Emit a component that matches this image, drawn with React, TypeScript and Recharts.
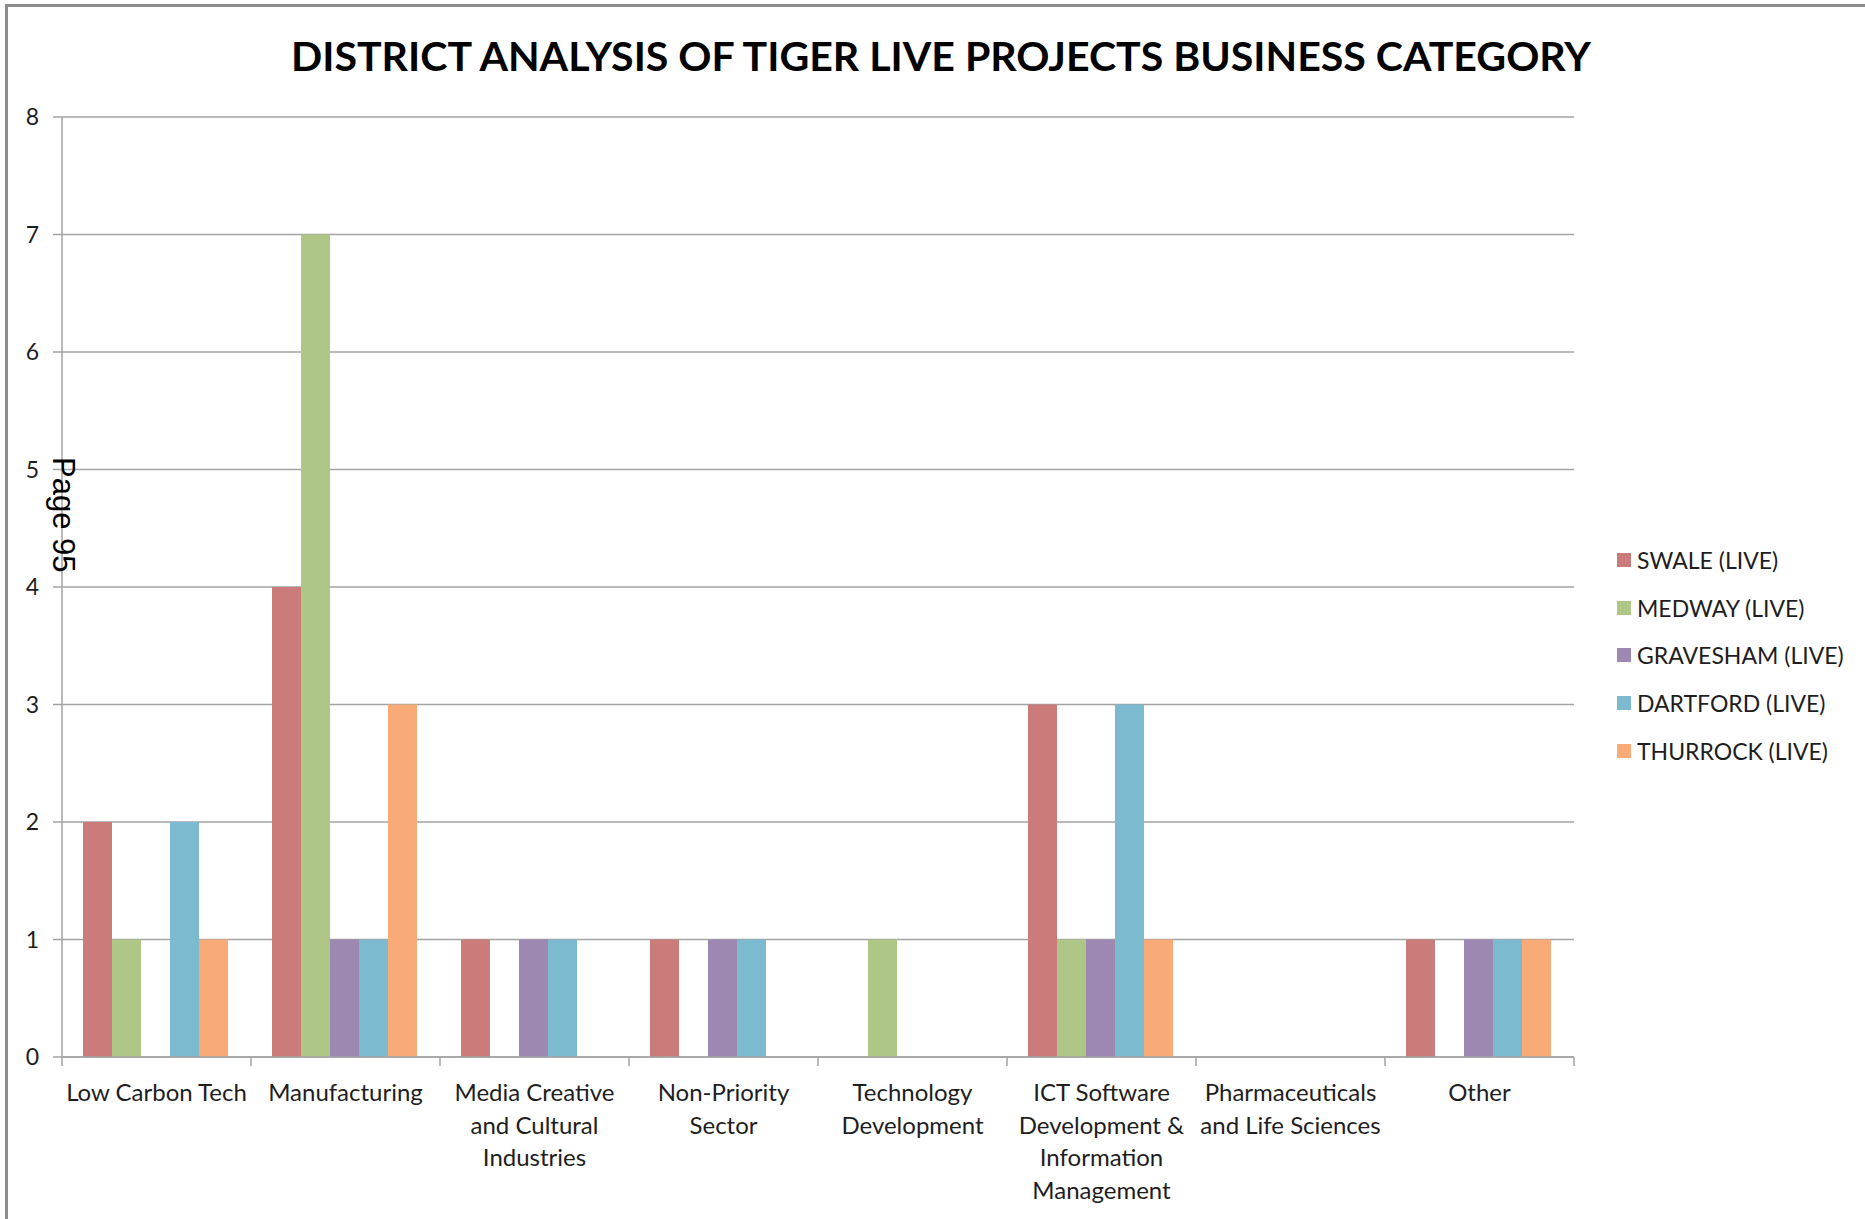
import { BarChart, Bar, XAxis, YAxis, CartesianGrid, Legend } from 'recharts'

// ── Data ─────────────────────────────────────────────────────────────────────

const categories = [
  'Low Carbon Tech',
  'Manufacturing',
  'Media Creative and Cultural Industries',
  'Non-Priority Sector',
  'Technology Development',
  'ICT Software Development & Information Management',
  'Pharmaceuticals and Life Sciences',
  'Other',
]

// how each category label wraps under the axis
const categoryLines = [
  ['Low Carbon Tech'],
  ['Manufacturing'],
  ['Media Creative', 'and Cultural', 'Industries'],
  ['Non-Priority', 'Sector'],
  ['Technology', 'Development'],
  ['ICT Software', 'Development &', 'Information', 'Management'],
  ['Pharmaceuticals', 'and Life Sciences'],
  ['Other'],
]

const swale     = [2, 4, 1, 1, 0, 3, 0, 1]
const medway    = [1, 7, 0, 0, 1, 1, 0, 0]
const gravesham = [0, 1, 1, 1, 0, 1, 0, 1]
const dartford  = [2, 1, 1, 1, 0, 3, 0, 1]
const thurrock  = [1, 3, 0, 0, 0, 1, 0, 1]

const seriesNames  = ['SWALE (LIVE)', 'MEDWAY (LIVE)', 'GRAVESHAM (LIVE)', 'DARTFORD (LIVE)', 'THURROCK (LIVE)']
const seriesKeys   = ['swale', 'medway', 'gravesham', 'dartford', 'thurrock']
const seriesColors = ['#CB7B7A', '#AEC686', '#9D88B2', '#7CBAD0', '#F8AA77']

const yTicks = [0, 1, 2, 3, 4, 5, 6, 7, 8]

const TITLE = 'DISTRICT ANALYSIS OF TIGER LIVE PROJECTS BUSINESS CATEGORY'

const chartData = categories.map((c, i) => ({
  category:  c,
  swale:     swale[i],
  medway:    medway[i],
  gravesham: gravesham[i],
  dartford:  dartford[i],
  thurrock:  thurrock[i],
}))

// ── Layout ───────────────────────────────────────────────────────────────────

const W = 1865
const H = 1219
const PLOT_LEFT   = 62
const PLOT_RIGHT  = 1574
const PLOT_TOP    = 117
const PLOT_BOTTOM = 1057
const BAND = (PLOT_RIGHT - PLOT_LEFT) / categories.length
const LEGEND_W = 240 // recharts reserves this much on the right

const FONT = 'Lato, "Open Sans", sans-serif'
const GRID = '#A3A3A3'
const TEXT = '#1e1e1e'

// ── Category tick: label lines + band-edge tick marks ───────────────────────

// eslint-disable-next-line @typescript-eslint/no-explicit-any
function CategoryTick({ x, index }: any) {
  const lines = categoryLines[index] ?? []
  const left = x - BAND / 2
  const last = index === categories.length - 1
  return (
    <g>
      <line x1={left} x2={left} y1={PLOT_BOTTOM} y2={PLOT_BOTTOM + 9} stroke={GRID} strokeWidth={1.5} />
      {last && (
        <line x1={left + BAND} x2={left + BAND} y1={PLOT_BOTTOM} y2={PLOT_BOTTOM + 9} stroke={GRID} strokeWidth={1.5} />
      )}
      {lines.map((l, i) => (
        <text
          key={i}
          x={x}
          y={PLOT_BOTTOM + 44 + i * 32.5}
          textAnchor="middle"
          fontFamily={FONT}
          fontSize={24}
          fill={TEXT}
        >
          {l}
        </text>
      ))}
    </g>
  )
}

// ── Legend ───────────────────────────────────────────────────────────────────

function LegendBox() {
  return (
    <div style={{ fontFamily: FONT, fontSize: 23, color: TEXT }}>
      {seriesNames.map((n, i) => (
        <div key={n} style={{ display: 'flex', alignItems: 'center', height: 47.8 }}>
          <span style={{ width: 14, height: 14, background: seriesColors[i], marginRight: 6, flexShrink: 0 }} />
          <span style={{ whiteSpace: 'nowrap' }}>{n}</span>
        </div>
      ))}
    </div>
  )
}

// ── App ──────────────────────────────────────────────────────────────────────

export default function App() {
  return (
    <div style={{ position: 'absolute', left: 0, top: 0, width: W, height: H, background: '#fff', overflow: 'hidden' }}>
      {/* frame edges */}
      <div style={{ position: 'absolute', left: 5, top: 4, width: W, height: H, borderTop: '3px solid #8c8c8c', borderLeft: '3px solid #8c8c8c' }} />

      <div style={{ position: 'absolute', left: 0, top: 0 }}>
        <BarChart
          width={W}
          height={H}
          data={chartData}
          margin={{ top: PLOT_TOP, right: W - PLOT_RIGHT - LEGEND_W, bottom: 0, left: 0 }}
          barCategoryGap={21}
          barGap={0}
        >
          <CartesianGrid vertical={false} stroke={GRID} strokeWidth={1.5} />
          <XAxis
            dataKey="category"
            height={H - PLOT_BOTTOM}
            interval={0}
            axisLine={{ stroke: GRID, strokeWidth: 1.5 }}
            tickLine={false}
            tick={<CategoryTick />}
          />
          <YAxis
            width={PLOT_LEFT}
            domain={[0, 8]}
            ticks={yTicks}
            interval={0}
            axisLine={{ stroke: GRID, strokeWidth: 1.5 }}
            tickLine={{ stroke: GRID, strokeWidth: 1.5 }}
            tickSize={9}
            tickMargin={14}
            tick={{ fontFamily: FONT, fontSize: 23, fill: TEXT }}
          />
          <Legend
            layout="vertical"
            align="right"
            verticalAlign="top"
            content={<LegendBox />}
            wrapperStyle={{ position: 'absolute', left: 1617, top: 536, width: LEGEND_W }}
          />
          {seriesKeys.map((k, i) => (
            <Bar key={k} dataKey={k} name={seriesNames[i]} fill={seriesColors[i]} isAnimationActive={false} />
          ))}
        </BarChart>
      </div>

      {/* title and page stamp */}
      <svg width={W} height={H} style={{ position: 'absolute', left: 0, top: 0, pointerEvents: 'none' }}>
        <text
          x={941}
          y={71}
          textAnchor="middle"
          fontFamily={FONT}
          fontWeight={700}
          fontSize={40}
          textLength={1300}
          lengthAdjust="spacingAndGlyphs"
          fill="#000"
        >
          {TITLE}
        </text>
        <text
          transform="translate(53,457) rotate(90)"
          fontFamily='"Liberation Sans", Arial, sans-serif'
          fontSize={31}
          fill="#000"
        >
          Page 95
        </text>
      </svg>
    </div>
  )
}
